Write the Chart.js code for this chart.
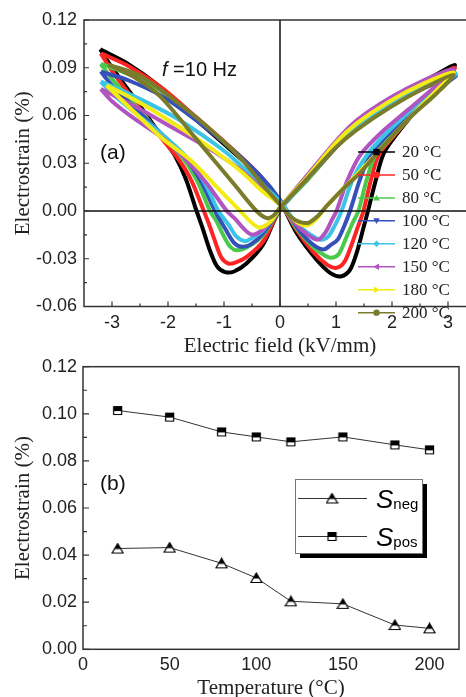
<!DOCTYPE html>
<html>
<head>
<meta charset="utf-8">
<script src="https://cdn.jsdelivr.net/npm/chart.js@4.4.1/dist/chart.umd.min.js"></script>
<style>
html, body { margin: 0; padding: 0; background: #fff; overflow: hidden; width: 466px; height: 697px; }
#chartA { position: absolute; left: 0; top: 0; }
#chartB { position: absolute; left: 0; top: 330px; }
</style>
</head>
<body>
<canvas id="chartA" width="480" height="360"></canvas>
<canvas id="chartB" width="466" height="380"></canvas>
<script>
const tempLabels = ['20 \u00B0C', '50 \u00B0C', '80 \u00B0C', '100 \u00B0C', '120 \u00B0C', '150 \u00B0C', '180 \u00B0C', '200 \u00B0C'];

const loop20 = [[-3.21,0.1016],[-2.74,0.093],[-2.14,0.078],[-1.55,0.059],[-0.95,0.0405],[-0.36,0.0218],[0,0.006],
  [0.3,-0.014],[0.65,-0.0305],[0.9,-0.039],[1.1,-0.041],[1.25,-0.037],[1.38,-0.025],[1.48,-0.012],[1.57,0],[1.7,0.018],[1.85,0.036],[2.1,0.049],[2.5,0.066],[2.85,0.08],
  [3.12,0.0918],[2.56,0.081],[1.96,0.069],[1.37,0.054],[1.0,0.041],[0.5,0.021],[0,0.001],
  [-0.3,-0.021],[-0.6,-0.033],[-0.82,-0.038],[-0.98,-0.0384],[-1.12,-0.035],[-1.26,-0.024],[-1.38,-0.011],[-1.49,0],[-1.68,0.02],[-1.88,0.035],[-2.1,0.046],[-2.6,0.071],[-3.0,0.09],[-3.21,0.1016]];
const loop50 = [[-3.2,0.099],[-2.7,0.091],[-2.1,0.077],[-1.5,0.059],[-0.9,0.0405],[-0.35,0.022],[0,0.006],
  [0.3,-0.012],[0.6,-0.026],[0.85,-0.034],[1.01,-0.0357],[1.15,-0.032],[1.28,-0.021],[1.39,-0.01],[1.49,0],[1.62,0.019],[1.76,0.035],[2.05,0.048],[2.45,0.064],[2.85,0.079],
  [3.12,0.09],[2.56,0.08],[1.96,0.068],[1.37,0.053],[1.0,0.04],[0.5,0.02],[0,0.001],
  [-0.3,-0.019],[-0.6,-0.029],[-0.8,-0.0325],[-0.92,-0.033],[-1.05,-0.029],[-1.17,-0.018],[-1.27,-0.008],[-1.36,0],[-1.58,0.019],[-1.82,0.033],[-2.1,0.045],[-2.6,0.069],[-3.0,0.088],[-3.2,0.099]];
const loop80 = [[-3.2,0.0924],[-2.7,0.086],[-2.1,0.075],[-1.5,0.058],[-0.9,0.04],[-0.35,0.021],[0,0.006],
  [0.3,-0.011],[0.6,-0.023],[0.8,-0.028],[0.92,-0.0294],[1.05,-0.027],[1.18,-0.017],[1.29,-0.008],[1.4,0],[1.55,0.02],[1.7,0.035],[2.0,0.048],[2.4,0.063],[2.85,0.077],
  [3.12,0.087],[2.56,0.078],[1.96,0.066],[1.37,0.052],[1.0,0.04],[0.5,0.02],[0,0.001],
  [-0.3,-0.015],[-0.55,-0.022],[-0.77,-0.0247],[-0.9,-0.022],[-1.03,-0.014],[-1.14,-0.006],[-1.25,0],[-1.48,0.019],[-1.75,0.034],[-2.1,0.047],[-2.6,0.067],[-3.0,0.083],[-3.2,0.0924]];
const loop100 = [[-3.2,0.0876],[-2.7,0.082],[-2.1,0.072],[-1.5,0.057],[-0.9,0.04],[-0.35,0.022],[0,0.007],
  [0.3,-0.01],[0.55,-0.02],[0.77,-0.0242],[0.92,-0.021],[1.03,-0.018],[1.14,-0.01],[1.25,0],[1.43,0.02],[1.61,0.035],[1.9,0.047],[2.3,0.061],[2.8,0.076],
  [3.14,0.085],[2.56,0.077],[1.96,0.066],[1.37,0.052],[1.0,0.04],[0.5,0.021],[0,0.001],
  [-0.3,-0.014],[-0.52,-0.021],[-0.68,-0.0225],[-0.82,-0.02],[-0.98,-0.011],[-1.16,0],[-1.4,0.018],[-1.7,0.034],[-2.1,0.048],[-2.6,0.065],[-3.0,0.079],[-3.2,0.0876]];
const loop120 = [[-3.2,0.0813],[-2.6,0.072],[-1.9,0.0594],[-1.4,0.048],[-0.95,0.0364],[-0.4,0.019],[0,0.006],
  [0.3,-0.008],[0.55,-0.015],[0.72,-0.018],[0.86,-0.016],[0.98,-0.009],[1.1,0],[1.3,0.02],[1.55,0.035],[1.9,0.049],[2.3,0.062],[2.8,0.077],
  [3.14,0.086],[2.56,0.078],[1.96,0.067],[1.37,0.053],[1.0,0.041],[0.5,0.021],[0,0.001],
  [-0.3,-0.012],[-0.5,-0.017],[-0.625,-0.019],[-0.78,-0.016],[-0.93,-0.008],[-1.1,0],[-1.35,0.018],[-1.7,0.035],[-2.1,0.048],[-2.6,0.062],[-3.0,0.074],[-3.2,0.0813]];
const loop150 = [[-3.2,0.0766],[-2.6,0.066],[-1.9,0.052],[-1.3,0.04],[-0.71,0.026],[-0.3,0.013],[0,0.004],
  [0.25,-0.007],[0.5,-0.015],[0.68,-0.018],[0.82,-0.013],[0.92,-0.006],[1.01,0],[1.2,0.019],[1.43,0.035],[1.8,0.049],[2.3,0.064],[2.8,0.079],
  [3.1,0.089],[2.56,0.082],[1.96,0.071],[1.37,0.057],[1.0,0.044],[0.5,0.023],[0,0.002],
  [-0.2,-0.008],[-0.38,-0.0135],[-0.51,-0.0148],[-0.65,-0.011],[-0.8,-0.005],[-0.95,0],[-1.3,0.017],[-1.7,0.033],[-2.1,0.046],[-2.6,0.058],[-3.0,0.069],[-3.2,0.0766]];
const loop180 = [[-3.1,0.079],[-2.6,0.07],[-1.9,0.055],[-1.3,0.041],[-0.7,0.025],[-0.3,0.012],[0,0.004],
  [0.2,-0.004],[0.35,-0.008],[0.48,-0.009],[0.65,-0.005],[0.83,0.003],[1.1,0.013],[1.43,0.025],[1.8,0.039],[2.3,0.058],[2.8,0.076],
  [3.1,0.087],[2.56,0.08],[1.96,0.069],[1.37,0.055],[1.0,0.043],[0.5,0.022],[0,0.002],
  [-0.15,-0.006],[-0.28,-0.0095],[-0.39,-0.0102],[-0.52,-0.007],[-0.71,0],[-1.1,0.014],[-1.6,0.032],[-2.08,0.045],[-2.6,0.062],[-3.1,0.079]];
const loop200 = [[-3.07,0.092],[-2.5,0.085],[-1.9,0.07],[-1.3,0.053],[-0.7,0.033],[-0.3,0.016],[0,0.004],
  [0.2,-0.004],[0.35,-0.0068],[0.51,-0.0074],[0.68,-0.003],[0.83,0.003],[1.1,0.013],[1.43,0.024],[1.79,0.0385],[2.3,0.058],[2.8,0.074],
  [3.1,0.0855],[2.56,0.077],[1.96,0.065],[1.37,0.051],[1.0,0.04],[0.5,0.021],[0,0.002],
  [-0.12,-0.003],[-0.24,-0.0044],[-0.42,0],[-0.8,0.016],[-1.49,0.045],[-2.14,0.072],[-2.6,0.084],[-3.07,0.092]];

const loops = [loop20, loop50, loop80, loop100, loop120, loop150, loop180, loop200];
const loopColors = ['#000000', '#ff2424', '#4cc94c', '#3550b8', '#3cc4e6', '#b055c0', '#f2ec14', '#7b7b2c'];
const loopMarkers = ['square', 'circle', 'up', 'down', 'diamond', 'left', 'right', 'circle'];
const fieldTicks = [-3, -2, -1, 0, 1, 2, 3];

// (b) peak strains vs temperature
const temps = [20, 50, 80, 100, 120, 150, 180, 200];
const sNeg = [0.0428, 0.0432, 0.0365, 0.0303, 0.0204, 0.0193, 0.0103, 0.0089];
const sPos = [0.1014, 0.0986, 0.0923, 0.0902, 0.0881, 0.0902, 0.0868, 0.0847];
const tempTicks = [0, 50, 100, 150, 200];

const SANS = "'Liberation Sans', Arial, sans-serif";
const SERIF = "'Liberation Serif', 'Times New Roman', serif";
const INK = '#222';

function fmt2(v) { return Math.abs(v) < 1e-9 ? '0.00' : v.toFixed(2); }

function drawMarker(ctx, kind, x, y, r, color) {
  ctx.save();
  ctx.fillStyle = color;
  ctx.beginPath();
  if (kind === 'square') ctx.rect(x - r, y - r, 2 * r, 2 * r);
  else if (kind === 'circle') ctx.arc(x, y, r, 0, Math.PI * 2);
  else if (kind === 'up') { ctx.moveTo(x, y - r); ctx.lineTo(x + r, y + r * 0.8); ctx.lineTo(x - r, y + r * 0.8); }
  else if (kind === 'down') { ctx.moveTo(x, y + r); ctx.lineTo(x + r, y - r * 0.8); ctx.lineTo(x - r, y - r * 0.8); }
  else if (kind === 'left') { ctx.moveTo(x - r, y); ctx.lineTo(x + r * 0.8, y - r); ctx.lineTo(x + r * 0.8, y + r); }
  else if (kind === 'right') { ctx.moveTo(x + r, y); ctx.lineTo(x - r * 0.8, y - r); ctx.lineTo(x - r * 0.8, y + r); }
  else if (kind === 'diamond') { ctx.moveTo(x, y - r); ctx.lineTo(x + r, y); ctx.lineTo(x, y + r); ctx.lineTo(x - r, y); }
  ctx.closePath();
  ctx.fill();
  ctx.restore();
}

// half black / half white symbols used in (b)
function halfMarker(kind) {
  const c = document.createElement('canvas');
  const w = kind === 'tri' ? 13 : 11, h = kind === 'tri' ? 12 : 11;
  c.width = w; c.height = h;
  const g = c.getContext('2d');
  const path = () => {
    g.beginPath();
    if (kind === 'tri') { g.moveTo(6.5, 1); g.lineTo(12, 10.5); g.lineTo(1, 10.5); }
    else g.rect(1.5, 1.5, 8, 8);
    g.closePath();
  };
  path(); g.fillStyle = '#fff'; g.fill();
  g.save(); path(); g.clip(); g.fillStyle = '#000'; g.fillRect(0, 0, w, h / 2 + 0.5); g.restore();
  path(); g.lineWidth = 1.2; g.strokeStyle = '#000'; g.stroke();
  return c;
}

function innerTicks(ctx, scale, horizontal, edge, majorLen, minorLen) {
  const vals = scale.ticks.map(t => t.value);
  ctx.beginPath();
  vals.forEach((v, i) => {
    const p = scale.getPixelForValue(v);
    if (horizontal) { ctx.moveTo(p, edge); ctx.lineTo(p, edge - majorLen); }
    else { ctx.moveTo(edge, p); ctx.lineTo(edge + majorLen, p); }
    if (i < vals.length - 1) {
      const m = scale.getPixelForValue((v + vals[i + 1]) / 2);
      if (horizontal) { ctx.moveTo(m, edge); ctx.lineTo(m, edge - minorLen); }
      else { ctx.moveTo(edge, m); ctx.lineTo(edge + minorLen, m); }
    }
  });
  ctx.stroke();
}

function axisOpts(opts) {
  return Object.assign({
    type: 'linear',
    grid: { display: false, drawTicks: false },
    border: { display: false },
  }, opts);
}

// ---------- panel (a) ----------
const panelA = {
  id: 'panelA',
  afterDatasetsDraw(chart) {
    const { ctx, chartArea: a, scales } = chart;
    ctx.save();
    ctx.strokeStyle = '#111';
    ctx.lineWidth = 1.5;
    const x0 = scales.x.getPixelForValue(0), y0 = scales.y.getPixelForValue(0);
    ctx.beginPath();
    ctx.moveTo(x0, a.top); ctx.lineTo(x0, a.bottom);
    ctx.moveTo(a.left, y0); ctx.lineTo(a.right, y0);
    ctx.stroke();
    ctx.strokeStyle = '#333';
    ctx.strokeRect(a.left, a.top, a.right - a.left, a.bottom - a.top);
    ctx.lineWidth = 1.2;
    innerTicks(ctx, scales.x, true, a.bottom, 5, 3);
    innerTicks(ctx, scales.y, false, a.left, 5, 3);

    // legend
    chart.data.datasets.forEach((ds, i) => {
      const y = 152 + i * 22.95;
      ctx.strokeStyle = ds.borderColor;
      ctx.lineWidth = 1.5;
      ctx.beginPath(); ctx.moveTo(358, y); ctx.lineTo(395, y); ctx.stroke();
      drawMarker(ctx, loopMarkers[i], 376.5, y, 3.2, ds.borderColor);
      ctx.fillStyle = INK;
      ctx.font = '17px ' + SERIF;
      ctx.textBaseline = 'middle';
      ctx.fillText(ds.label, 402, y + 1);
    });

    ctx.fillStyle = '#111';
    ctx.textBaseline = 'middle';
    ctx.font = '21px ' + SANS;
    ctx.fillText('(a)', 100, 153);
    ctx.font = 'italic 20px ' + SANS;
    ctx.fillText('f', 162, 70);
    const fw = ctx.measureText('f').width;
    ctx.font = '20px ' + SANS;
    ctx.fillText(' =10 Hz', 162 + fw, 70);
    ctx.restore();
  }
};

new Chart(document.getElementById('chartA'), {
  type: 'scatter',
  data: {
    datasets: loops.map((pts, i) => ({
      label: tempLabels[i],
      data: pts.map(p => ({ x: p[0], y: p[1] })),
      showLine: true,
      borderColor: loopColors[i],
      borderWidth: 4,
      pointRadius: 0,
      tension: 0.3,
      order: loops.length - i
    }))
  },
  options: {
    responsive: false,
    animation: false,
    devicePixelRatio: 1,
    layout: { padding: { top: 20, right: 4, left: 0, bottom: 0 } },
    plugins: { legend: { display: false }, tooltip: { enabled: false } },
    scales: {
      x: axisOpts({
        min: -3.5, max: 3.5,
        afterBuildTicks(s) { s.ticks = fieldTicks.map(v => ({ value: v })); },
        ticks: { padding: 6, color: INK, font: { family: SANS, size: 18 } },
        title: { display: true, text: 'Electric field (kV/mm)', color: INK, font: { family: SERIF, size: 21 }, padding: { top: 0, bottom: 0.5 } },
        afterFit(s) { s.height = 53.5; }
      }),
      y: axisOpts({
        min: -0.06, max: 0.12,
        ticks: { stepSize: 0.03, includeBounds: false, padding: 7, color: INK, font: { family: SANS, size: 18 }, callback: fmt2 },
        title: { display: true, text: 'Electrostrain (%)', color: INK, font: { family: SERIF, size: 21 }, padding: { top: 11, bottom: 0 } },
        afterFit(s) { s.width = 84; }
      })
    }
  },
  plugins: [panelA]
});

// ---------- panel (b) ----------
const triImg = halfMarker('tri');
const sqImg = halfMarker('sq');

const panelB = {
  id: 'panelB',
  afterDraw(chart) {
    const { ctx, chartArea: a, scales } = chart;
    ctx.save();
    ctx.strokeStyle = '#333';
    ctx.lineWidth = 1.5;
    ctx.strokeRect(a.left, a.top, a.right - a.left, a.bottom - a.top);
    ctx.lineWidth = 1.2;
    innerTicks(ctx, scales.y, false, a.left, 6, 4);

    // legend box with drop shadow
    const bx = 295, by = 149, bw = 127, bh = 74;
    ctx.fillStyle = '#000';
    ctx.fillRect(bx + 5, by + 5, bw, bh);
    ctx.fillStyle = '#fff';
    ctx.fillRect(bx, by, bw, bh);
    ctx.strokeStyle = '#777';
    ctx.lineWidth = 1;
    ctx.strokeRect(bx + 0.5, by + 0.5, bw, bh);

    const rows = [
      { y: 168.5, img: triImg, sub: 'neg' },
      { y: 206.5, img: sqImg, sub: 'pos' }
    ];
    rows.forEach(r => {
      ctx.strokeStyle = '#333';
      ctx.lineWidth = 1;
      ctx.beginPath(); ctx.moveTo(298, r.y); ctx.lineTo(367, r.y); ctx.stroke();
      ctx.drawImage(r.img, 332 - r.img.width / 2, r.y - r.img.height / 2);
      ctx.fillStyle = '#000';
      ctx.textBaseline = 'alphabetic';
      ctx.font = 'italic 26px ' + SANS;
      ctx.fillText('S', 376, r.y + 9.5);
      const sw = ctx.measureText('S').width;
      ctx.font = '15px ' + SANS;
      ctx.fillText(r.sub, 376 + sw, r.y + 10.5);
    });

    ctx.fillStyle = '#111';
    ctx.textBaseline = 'middle';
    ctx.font = '21px ' + SANS;
    ctx.fillText('(b)', 100, 154);
    ctx.restore();
  }
};

new Chart(document.getElementById('chartB'), {
  type: 'scatter',
  data: {
    datasets: [
      { label: 'Sneg', data: temps.map((t, i) => ({ x: t, y: sNeg[i] })), showLine: true,
        borderColor: '#333', borderWidth: 1, pointStyle: triImg, pointRadius: 6 },
      { label: 'Spos', data: temps.map((t, i) => ({ x: t, y: sPos[i] })), showLine: true,
        borderColor: '#333', borderWidth: 1, pointStyle: sqImg, pointRadius: 6 }
    ]
  },
  options: {
    responsive: false,
    animation: false,
    devicePixelRatio: 1,
    layout: { padding: { top: 36.7, right: 1, left: 0, bottom: 0 } },
    plugins: { legend: { display: false }, tooltip: { enabled: false } },
    scales: {
      x: axisOpts({
        min: 0, max: 217,
        afterBuildTicks(s) { s.ticks = tempTicks.map(v => ({ value: v })); },
        ticks: { padding: 5, color: INK, font: { family: SANS, size: 18 } },
        title: { display: true, text: 'Temperature (\u00B0C)', color: INK, font: { family: SERIF, size: 21 }, padding: { top: 0, bottom: 9.4 } },
        afterFit(s) { s.height = 60.7; }
      }),
      y: axisOpts({
        min: 0, max: 0.12,
        ticks: { stepSize: 0.02, includeBounds: false, padding: 6, color: INK, font: { family: SANS, size: 18 }, callback: fmt2 },
        title: { display: true, text: 'Electrostrain (%)', color: INK, font: { family: SERIF, size: 21 }, padding: { top: 10.7, bottom: 0 } },
        afterFit(s) { s.width = 83; }
      })
    }
  },
  plugins: [panelB]
});
</script>
</body>
</html>
